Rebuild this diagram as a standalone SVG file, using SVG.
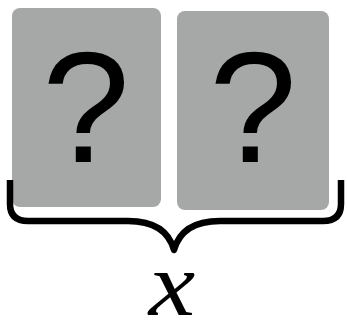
<svg xmlns="http://www.w3.org/2000/svg" width="347" height="324" viewBox="0 0 347 324">
<style>
.card{fill:#a5a8a6;}
.q{font-family:"Liberation Sans",Arial,sans-serif;font-size:158px;fill:#000;text-anchor:middle;}
.brace{fill:none;stroke:#000;stroke-width:6.5;stroke-linecap:butt;stroke-linejoin:round;}
.lbl{font-family:"Liberation Serif","DejaVu Serif",serif;font-style:italic;font-size:91px;fill:#000;text-anchor:middle;}
</style>
<g id="card1">
<rect class="card" x="12" y="8" width="149" height="199" rx="8"/>
<text class="q" x="86" y="162">?</text>
</g>
<g id="card2">
<rect class="card" x="177" y="11" width="152" height="199" rx="8"/>
<text class="q" x="253" y="162">?</text>
</g>
<g id="connectors">
<path class="brace" d="M10,180 L10,204 Q10,221 28,221 L128,221 Q166,221 174,250 Q182,221 220,221 L323,221 Q341,221 341,204 L341,180"/>
</g>
<g id="label">
<text class="lbl" x="0" y="0" transform="translate(172,315) scale(1.15,1)">x</text>
</g>
</svg>
